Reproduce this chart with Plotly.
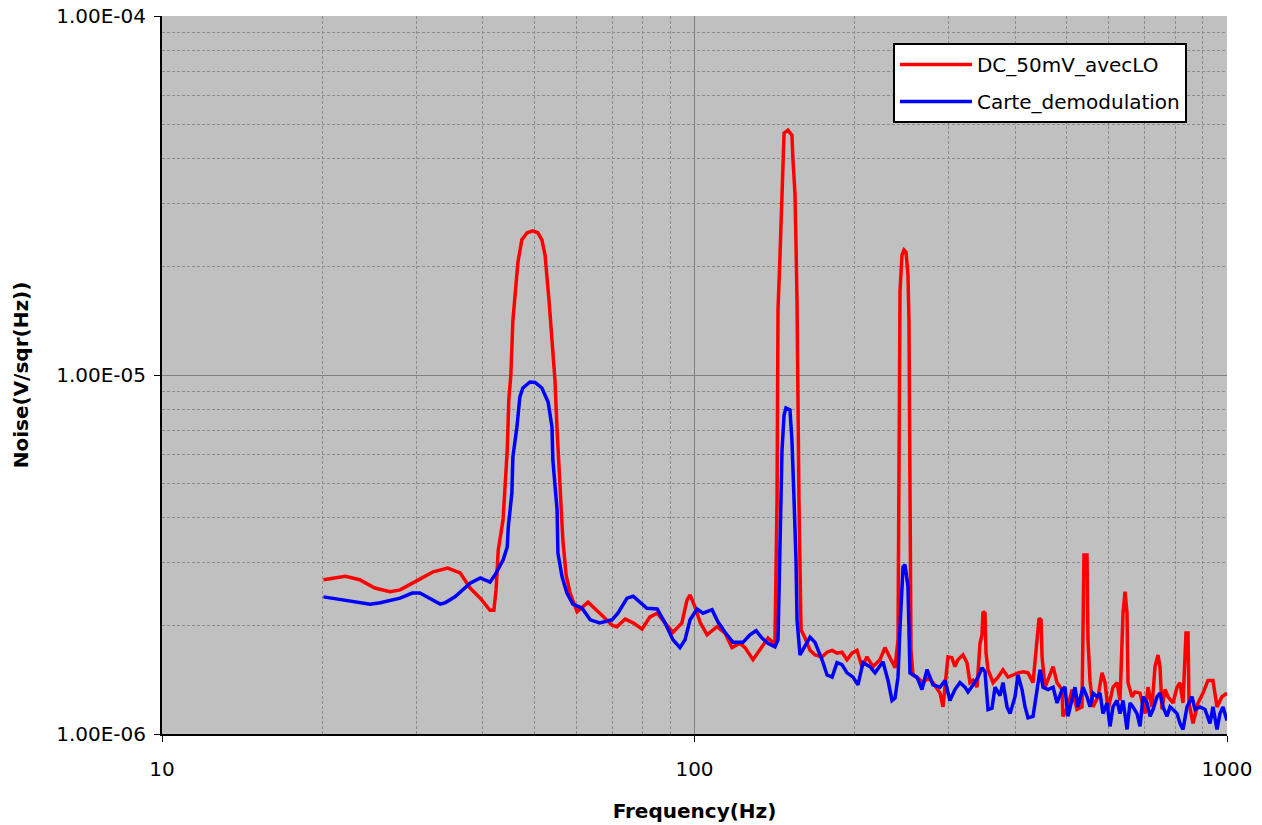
import plotly.graph_objects as go

# ---- data ----
freq_red = [20.1, 22.1, 23.5, 25.1, 26.8, 28.0, 30.5, 32.3, 34.4, 36.3, 37.9, 39.6, 41.3, 42.0, 42.4,
            42.8, 43.7, 44.5, 44.8, 45.2, 45.6, 46.2, 46.6, 47.4, 48.5, 49.7, 50.8, 51.7, 52.4, 53.3,
            54.0, 54.7, 55.2, 55.9, 56.6, 57.4, 58.4, 60.2, 63.1, 66.4, 70.0, 71.5, 74.1, 76.7, 79.7,
            82.5, 85.1, 88.0, 91.1, 94.7, 96.8, 98.1, 100.2, 102.4, 105.6, 110.2, 114.1, 117.6, 121.7,
            124.4, 128.8, 133.9, 137.4, 140.4, 141.6, 142.9, 143.5, 144.7, 146.0, 146.6, 147.3, 149.8,
            152.4, 153.1, 154.4, 155.1, 155.8, 157.1, 158.5, 161.3, 164.8, 168.4, 173.6, 177.4, 181.3,
            185.2, 189.2, 193.4, 197.6, 201.9, 206.3, 210.8, 216.4, 223.0, 227.9, 232.9, 238.0, 241.1,
            242.1, 243.2, 245.3, 247.4, 249.6, 251.7, 252.8, 253.9, 255.0, 257.2, 262.8, 268.6, 274.5,
            280.5, 289.1, 292.9, 299.2, 304.4, 308.4, 312.4, 319.3, 324.9, 329.1, 333.4, 339.3, 343.7,
            346.7, 348.2, 351.2, 352.8, 355.8, 363.6, 371.5, 379.6, 388.0, 396.5, 405.1, 414.0, 423.0,
            432.3, 439.8, 443.6, 447.5, 449.5, 455.3, 465.3, 471.4, 479.6, 490.1, 492.0, 502.8, 511.5,
            522.7, 534.2, 536.5, 538.8, 545.9, 548.2, 553.0, 560.2, 572.5, 582.5, 590.1, 597.8, 610.8,
            621.5, 629.6, 637.9, 643.4, 649.0, 651.8, 663.2, 671.8, 686.5, 701.5, 710.7, 723.1, 732.5,
            742.1, 748.5, 755.0, 764.9, 774.9, 791.8, 805.6, 816.1, 826.8, 837.5, 844.8, 848.5, 863.4,
            882.2, 901.5, 921.1, 941.1, 957.7, 978.6, 1000.0]
noise_red = [2.69e-6, 2.75e-6, 2.69e-6, 2.55e-6, 2.49e-6, 2.52e-6, 2.70e-6, 2.83e-6, 2.90e-6, 2.81e-6,
             2.55e-6, 2.39e-6, 2.21e-6, 2.21e-6, 2.52e-6, 3.25e-6, 3.95e-6, 6.18e-6, 8.52e-6, 1.00e-5,
             1.42e-5, 1.84e-5, 2.06e-5, 2.38e-5, 2.49e-5, 2.52e-5, 2.49e-5, 2.38e-5, 2.16e-5, 1.62e-5,
             1.25e-5, 9.68e-6, 7.03e-6, 4.78e-6, 3.47e-6, 2.77e-6, 2.47e-6, 2.19e-6, 2.33e-6, 2.17e-6,
             2.01e-6, 1.99e-6, 2.09e-6, 2.04e-6, 1.96e-6, 2.12e-6, 2.17e-6, 2.04e-6, 1.92e-6, 2.04e-6,
             2.36e-6, 2.44e-6, 2.26e-6, 2.05e-6, 1.89e-6, 1.99e-6, 1.91e-6, 1.74e-6, 1.79e-6, 1.74e-6,
             1.61e-6, 1.75e-6, 1.85e-6, 1.80e-6, 1.79e-6, 4.49e-6, 1.52e-5, 2.13e-5, 3.07e-5, 3.97e-5,
             4.72e-5, 4.81e-5, 4.66e-5, 3.97e-5, 3.21e-5, 2.33e-5, 1.59e-5, 4.49e-6, 1.95e-6, 1.85e-6,
             1.71e-6, 1.66e-6, 1.64e-6, 1.69e-6, 1.71e-6, 1.68e-6, 1.69e-6, 1.61e-6, 1.68e-6, 1.71e-6,
             1.54e-6, 1.64e-6, 1.54e-6, 1.61e-6, 1.74e-6, 1.63e-6, 1.53e-6, 1.83e-6, 6.18e-6, 1.72e-5,
             2.16e-5, 2.23e-5, 2.20e-5, 1.90e-5, 1.42e-5, 4.49e-6, 1.71e-6, 1.46e-6, 1.43e-6, 1.39e-6,
             1.43e-6, 1.39e-6, 1.30e-6, 1.19e-6, 1.64e-6, 1.63e-6, 1.54e-6, 1.61e-6, 1.66e-6, 1.58e-6,
             1.39e-6, 1.41e-6, 1.35e-6, 1.79e-6, 1.89e-6, 2.19e-6, 2.17e-6, 1.68e-6, 1.51e-6, 1.39e-6,
             1.44e-6, 1.51e-6, 1.44e-6, 1.46e-6, 1.48e-6, 1.49e-6, 1.48e-6, 1.39e-6, 1.83e-6, 2.10e-6,
             2.08e-6, 1.64e-6, 1.35e-6, 1.48e-6, 1.54e-6, 1.39e-6, 1.33e-6, 1.12e-6, 1.19e-6, 1.33e-6,
             1.17e-6, 1.19e-6, 1.83e-6, 3.15e-6, 3.15e-6, 1.83e-6, 1.41e-6, 1.19e-6, 1.27e-6, 1.48e-6,
             1.39e-6, 1.17e-6, 1.35e-6, 1.39e-6, 1.24e-6, 2.17e-6, 2.49e-6, 2.17e-6, 1.39e-6, 1.27e-6,
             1.31e-6, 1.30e-6, 1.14e-6, 1.35e-6, 1.19e-6, 1.54e-6, 1.66e-6, 1.54e-6, 1.17e-6, 1.33e-6,
             1.27e-6, 1.22e-6, 1.35e-6, 1.39e-6, 1.22e-6, 1.91e-6, 1.91e-6, 1.22e-6, 1.07e-6, 1.22e-6,
             1.30e-6, 1.41e-6, 1.41e-6, 1.19e-6, 1.27e-6, 1.30e-6]

freq_blue = [20.1, 23.5, 24.6, 25.7, 28.0, 29.5, 30.5, 33.3, 34.0, 35.5, 37.9, 39.6, 41.3, 42.2, 43.7,
             44.5, 44.7, 45.4, 45.6, 46.4, 47.0, 47.6, 49.1, 50.2, 51.7, 53.1, 54.0, 54.2, 55.2, 55.4,
             56.4, 57.6, 59.1, 61.5, 63.7, 66.4, 70.0, 71.8, 74.7, 76.7, 79.0, 81.4, 85.1, 88.0, 91.1,
             93.9, 96.0, 98.1, 101.1, 103.7, 107.9, 110.7, 114.1, 118.1, 123.3, 127.1, 130.5, 133.9,
             137.4, 141.6, 143.5, 144.7, 146.0, 147.3, 148.5, 151.1, 152.4, 153.8, 155.1, 155.8, 157.8,
             164.8, 168.4, 173.6, 177.4, 181.3, 185.2, 189.2, 193.4, 198.5, 202.8, 207.2, 213.6, 218.3,
             223.0, 225.9, 230.9, 234.9, 238.0, 241.1, 243.2, 245.3, 246.4, 248.5, 251.7, 253.9, 261.7,
             267.4, 273.3, 280.5, 289.1, 295.4, 301.8, 308.4, 315.1, 322.1, 326.3, 333.4, 340.7, 346.7,
             351.2, 355.8, 362.0, 366.7, 374.8, 379.6, 386.3, 391.4, 399.9, 405.1, 412.1, 417.6, 423.0,
             432.3, 439.8, 445.6, 451.4, 461.3, 471.4, 479.6, 490.1, 496.3, 502.8, 511.5, 518.2, 525.0,
             536.5, 545.9, 553.0, 560.2, 570.0, 577.5, 585.0, 595.2, 603.0, 610.8, 621.5, 629.6, 637.9,
             649.0, 657.5, 666.0, 677.6, 686.5, 695.5, 707.6, 716.9, 726.2, 738.9, 748.5, 758.3, 771.5,
             781.6, 791.8, 805.6, 816.1, 826.8, 841.2, 859.6, 870.8, 889.9, 909.3, 929.1, 941.1, 957.7,
             970.0, 982.7, 1000.0]
noise_blue = [2.41e-6, 2.33e-6, 2.30e-6, 2.32e-6, 2.39e-6, 2.47e-6, 2.47e-6, 2.30e-6, 2.32e-6, 2.41e-6,
              2.63e-6, 2.72e-6, 2.65e-6, 2.77e-6, 3.05e-6, 3.32e-6, 3.77e-6, 4.69e-6, 5.91e-6, 7.16e-6,
              8.69e-6, 9.20e-6, 9.56e-6, 9.53e-6, 9.20e-6, 8.41e-6, 7.16e-6, 5.80e-6, 4.21e-6, 3.19e-6,
              2.74e-6, 2.47e-6, 2.30e-6, 2.24e-6, 2.08e-6, 2.04e-6, 2.08e-6, 2.17e-6, 2.39e-6, 2.42e-6,
              2.33e-6, 2.24e-6, 2.23e-6, 2.04e-6, 1.83e-6, 1.74e-6, 1.83e-6, 2.08e-6, 2.23e-6, 2.17e-6,
              2.22e-6, 2.05e-6, 1.92e-6, 1.80e-6, 1.80e-6, 1.89e-6, 1.94e-6, 1.85e-6, 1.79e-6, 1.75e-6,
              1.83e-6, 3.70e-6, 6.18e-6, 7.74e-6, 8.09e-6, 7.99e-6, 6.59e-6, 4.49e-6, 3.05e-6, 2.08e-6,
              1.66e-6, 1.86e-6, 1.80e-6, 1.61e-6, 1.46e-6, 1.44e-6, 1.58e-6, 1.56e-6, 1.48e-6, 1.44e-6,
              1.37e-6, 1.58e-6, 1.54e-6, 1.48e-6, 1.54e-6, 1.59e-6, 1.41e-6, 1.24e-6, 1.26e-6, 1.44e-6,
              1.99e-6, 2.47e-6, 2.92e-6, 2.96e-6, 2.57e-6, 1.48e-6, 1.44e-6, 1.33e-6, 1.51e-6, 1.37e-6,
              1.35e-6, 1.41e-6, 1.24e-6, 1.33e-6, 1.39e-6, 1.35e-6, 1.31e-6, 1.37e-6, 1.44e-6, 1.53e-6,
              1.49e-6, 1.17e-6, 1.18e-6, 1.35e-6, 1.28e-6, 1.39e-6, 1.19e-6, 1.14e-6, 1.27e-6, 1.46e-6,
              1.33e-6, 1.19e-6, 1.11e-6, 1.12e-6, 1.35e-6, 1.51e-6, 1.35e-6, 1.33e-6, 1.35e-6, 1.22e-6,
              1.33e-6, 1.35e-6, 1.12e-6, 1.24e-6, 1.35e-6, 1.19e-6, 1.35e-6, 1.27e-6, 1.19e-6, 1.30e-6,
              1.27e-6, 1.30e-6, 1.14e-6, 1.22e-6, 1.05e-6, 1.19e-6, 1.24e-6, 1.14e-6, 1.24e-6, 1.03e-6,
              1.22e-6, 1.19e-6, 1.14e-6, 1.05e-6, 1.27e-6, 1.22e-6, 1.12e-6, 1.17e-6, 1.27e-6, 1.30e-6,
              1.19e-6, 1.12e-6, 1.19e-6, 1.17e-6, 1.14e-6, 1.07e-6, 1.03e-6, 1.19e-6, 1.27e-6, 1.17e-6,
              1.19e-6, 1.17e-6, 1.07e-6, 1.19e-6, 1.03e-6, 1.14e-6, 1.19e-6, 1.09e-6]

name_red = "DC_50mV_avecLO"
name_blue = "Carte_demodulation"

x_tickvals = [10, 100, 1000]
x_ticktext = ["10", "100", "1000"]
y_tickvals = [1e-6, 1e-5, 1e-4]
y_ticktext = ["1.00E-06", "1.00E-05", "1.00E-04"]

FONT = "DejaVu Sans"

fig = go.Figure()
fig.add_trace(go.Scatter(x=freq_red, y=noise_red, mode="lines", name=name_red,
                         line=dict(color="#FF0000", width=3.5), legendgroup="a"))
fig.add_trace(go.Scatter(x=freq_blue, y=noise_blue, mode="lines", name=name_blue,
                         line=dict(color="#0000FF", width=3.5), legendgroup="b"))

axis_common = dict(
    showline=True, linecolor="black", linewidth=2,
    ticks="outside", ticklen=6, tickcolor="black", tickwidth=1,
    showgrid=True, gridcolor="#808080", gridwidth=1,
    zeroline=False,
    tickfont=dict(family=FONT, size=20, color="black"),
)

fig.update_xaxes(type="log", range=[1, 3], tickvals=x_tickvals, ticktext=x_ticktext,
                 ticklabelstandoff=10,
                 minor=dict(dtick="D1", showgrid=True, gridcolor="#8c8c8c", griddash="3px,2px",
                            gridwidth=1, ticks=""),
                 title=dict(text="<b>Frequency(Hz)</b>", font=dict(family=FONT, size=20, color="black"),
                            standoff=24),
                 **axis_common)
fig.update_yaxes(type="log", range=[-6, -4], tickvals=y_tickvals, ticktext=y_ticktext,
                 ticklabelstandoff=4,
                 minor=dict(dtick="D1", showgrid=True, gridcolor="#8c8c8c", griddash="3px,2px",
                            gridwidth=1, ticks=""),
                 title=dict(text="<b>Noise(V/sqr(Hz))</b>", font=dict(family=FONT, size=20, color="black"),
                            standoff=22),
                 **axis_common)

fig.update_layout(
    width=1262, height=825,
    margin=dict(l=162, r=35, t=16, b=91, autoexpand=False),
    paper_bgcolor="white", plot_bgcolor="#C0C0C0",
    font=dict(family=FONT, size=20, color="black"),
    showlegend=True,
    legend=dict(x=0.9624, y=0.9624, xanchor="right", yanchor="top",
                bgcolor="white", bordercolor="black", borderwidth=2,
                font=dict(family=FONT, size=20, color="black"),
                itemwidth=72,
                tracegroupgap=8, traceorder="grouped"),
)

fig.write_html("out.html")
